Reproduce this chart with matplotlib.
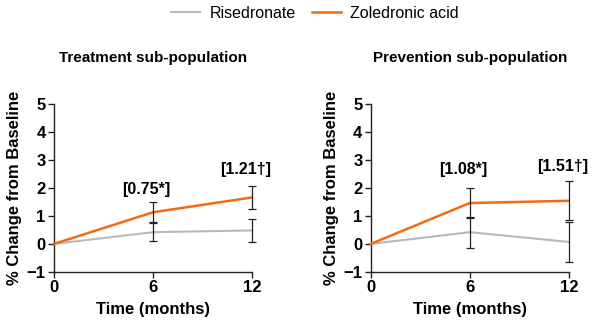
import matplotlib.pyplot as plt

plt.rcParams['font.family'] = ['Liberation Sans', 'DejaVu Sans']

months = [0, 6, 12]

# Treatment sub-population
treat_ris = [0.0, 0.42, 0.48]
treat_ris_err = [0.0, 0.31, 0.40]
treat_zol = [0.0, 1.13, 1.66]
treat_zol_err = [0.0, 0.35, 0.40]
treat_labels = ['[0.75*]', '[1.21\u2020]']
treat_label_y = [1.95, 2.66]

# Prevention sub-population
prev_ris = [0.0, 0.42, 0.07]
prev_ris_err = [0.0, 0.55, 0.72]
prev_zol = [0.0, 1.46, 1.54]
prev_zol_err = [0.0, 0.52, 0.70]
prev_labels = ['[1.08*]', '[1.51\u2020]']
prev_label_y = [2.64, 2.78]

titles = ['Treatment sub-population', 'Prevention sub-population']

grey = '#b8b8b8'
orange = '#f26a12'

fig = plt.figure(figsize=(6, 3.32), dpi=100)
ax1 = fig.add_axes([0.09, 0.181, 0.33, 0.506])
ax2 = fig.add_axes([0.618, 0.181, 0.33, 0.506])

panels = [
    (ax1, treat_ris, treat_ris_err, treat_zol, treat_zol_err, treat_labels, treat_label_y),
    (ax2, prev_ris, prev_ris_err, prev_zol, prev_zol_err, prev_labels, prev_label_y),
]

for i, (ax, ris, ris_err, zol, zol_err, labels, label_y) in enumerate(panels):
    l1, = ax.plot(months, ris, color=grey, lw=1.5, label='Risedronate', zorder=2, clip_on=False)
    l2, = ax.plot(months, zol, color=orange, lw=1.8, label='Zoledronic acid', zorder=3, clip_on=False)
    for vals, errs in ((ris, ris_err), (zol, zol_err)):
        eb = ax.errorbar(months[1:], vals[1:], yerr=errs[1:], fmt='none', ecolor='#222222',
                         elinewidth=0.9, capsize=2.8, capthick=0.9, zorder=4)
        for art in eb.lines[1] + eb.lines[2]:
            art.set_clip_on(False)
    for x, y, t in zip(months[1:], label_y, labels):
        ax.text(x - 0.4, y, t, ha='center', va='center', fontsize=11.5, fontweight='bold')

    ax.set_xlim(0, 12)
    ax.set_ylim(-1, 5)
    ax.set_xticks(months)
    ax.set_yticks(range(-1, 6))
    ax.set_yticklabels(['\u22121', '0', '1', '2', '3', '4', '5'])
    ax.spines['top'].set_visible(False)
    ax.spines['right'].set_visible(False)
    for s in ('left', 'bottom'):
        ax.spines[s].set_linewidth(1.0)
        ax.spines[s].set_color('#222222')
    ax.tick_params(axis='both', direction='out', length=4, width=1, colors='#222222',
                   labelsize=12, labelcolor='black', pad=2)
    for lab in ax.get_xticklabels() + ax.get_yticklabels():
        lab.set_fontweight('bold')
    ax.set_xlabel('Time (months)', fontsize=12, fontweight='bold', labelpad=5)
    ax.set_ylabel('% Change from Baseline', fontsize=12, fontweight='bold', labelpad=3)
    ax.set_title(titles[i], fontsize=11, fontweight='bold', pad=30)

fig.legend(handles=[l1, l2], loc='upper center', bbox_to_anchor=(0.525, 1.025), ncol=2,
           frameon=False, fontsize=11.5, handlelength=1.8, columnspacing=1.0,
           handletextpad=0.6)

fig.savefig('out.png', dpi=100)
